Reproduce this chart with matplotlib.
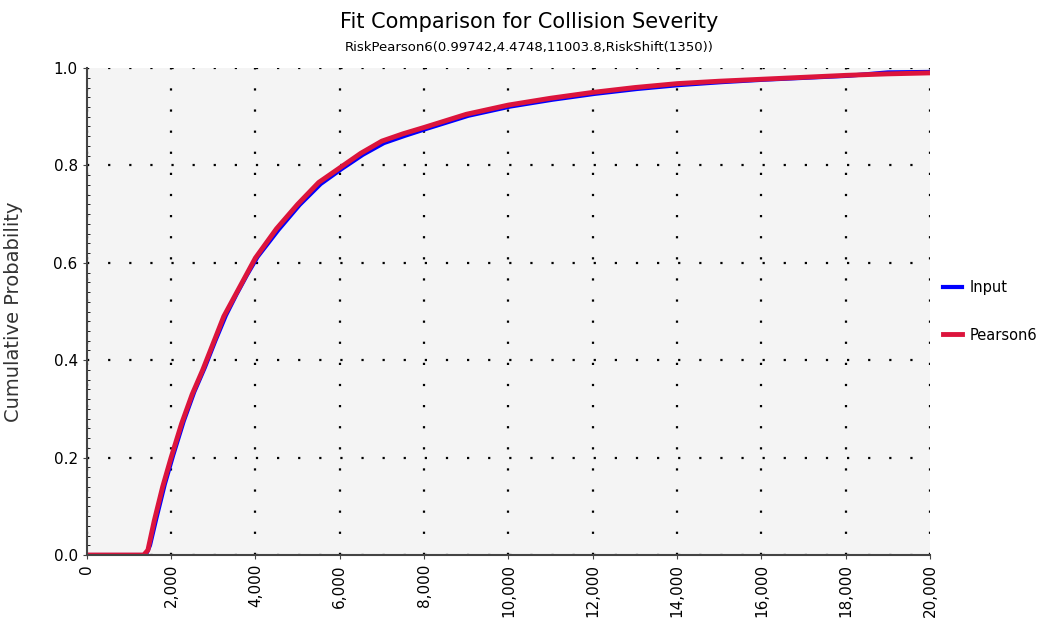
import matplotlib
matplotlib.use('Agg')
import matplotlib.pyplot as plt
from matplotlib.ticker import FuncFormatter, MultipleLocator

# Pearson6 fitted CDF
fit_x = [0, 1350, 1450, 1600, 1800, 2000, 2250, 2500, 2750, 3000, 3250, 3500,
         3750, 4000, 4500, 5000, 5500, 6000, 6500, 7000, 7500, 8000, 9000,
         10000, 11000, 12000, 13000, 14000, 15000, 16000, 17000, 18000, 19000, 20000]
fit_y = [0.0, 0.0, 0.01, 0.07, 0.14, 0.20, 0.27, 0.33, 0.38, 0.435, 0.49, 0.53,
         0.57, 0.61, 0.67, 0.72, 0.765, 0.795, 0.825, 0.85, 0.865, 0.878, 0.905,
         0.924, 0.938, 0.95, 0.96, 0.968, 0.973, 0.977, 0.981, 0.985, 0.988, 0.99]

# empirical input CDF (sits just under the fit)
inp_x = [0, 1400, 1500, 1650, 1850, 2050, 2300, 2550, 2800, 3050, 3300, 3550,
         3800, 4050, 4550, 5050, 5550, 6050, 6550, 7050, 7550, 8050, 9050,
         10050, 11050, 12050, 13050, 14050, 15050, 16050, 17050, 18050, 19000, 20000]
inp_y = [0.0, 0.0, 0.02, 0.075, 0.145, 0.205, 0.275, 0.335, 0.385, 0.44, 0.492, 0.535,
         0.575, 0.612, 0.668, 0.719, 0.762, 0.793, 0.822, 0.846, 0.861, 0.875, 0.902,
         0.921, 0.935, 0.947, 0.957, 0.965, 0.971, 0.976, 0.98, 0.984, 0.991, 0.992]

fig = plt.figure(figsize=(10.58, 6.3), dpi=100)
ax = fig.add_axes([0.082, 0.119, 0.797, 0.773])
ax.set_facecolor('#f4f4f4')

ax.plot(inp_x, inp_y, color='#0000ff', lw=3, label='Input')
ax.plot(fit_x, fit_y, color='#dc143c', lw=3.5, label='Pearson6')

ax.set_xlim(0, 20000)
ax.set_ylim(0, 1.0)
ax.xaxis.set_major_locator(MultipleLocator(2000))
ax.yaxis.set_major_locator(MultipleLocator(0.2))
ax.yaxis.set_minor_locator(MultipleLocator(0.02))
ax.xaxis.set_major_formatter(FuncFormatter(lambda v, p: f'{int(v):,}'))
ax.yaxis.set_major_formatter(FuncFormatter(lambda v, p: f'{v:.1f}'))
plt.setp(ax.get_xticklabels(), rotation=90)
ax.tick_params(labelsize=11, length=3, color='#444444')
ax.tick_params(axis='y', which='minor', length=2, direction='in')

ax.grid(True, color='black', linestyle=(0, (1, 8.5)), lw=1.6)
for s in ['top', 'right']:
    ax.spines[s].set_visible(False)
for s in ['left', 'bottom']:
    ax.spines[s].set_color('#444444')
    ax.spines[s].set_linewidth(1.5)

ax.set_ylabel('Cumulative Probability', fontsize=14, color='#333333', labelpad=22)
fig.text(0.5, 0.965, 'Fit Comparison for Collision Severity', ha='center', va='center', fontsize=15)
fig.text(0.5, 0.925, 'RiskPearson6(0.99742,4.4748,11003.8,RiskShift(1350))', ha='center',
         va='center', fontsize=9.5)

ax.legend(loc='center left', bbox_to_anchor=(1.0, 0.5), frameon=False, fontsize=10.5,
          handlelength=1.3, labelspacing=2.2, handletextpad=0.5)

fig.savefig('out.png', dpi=100)
